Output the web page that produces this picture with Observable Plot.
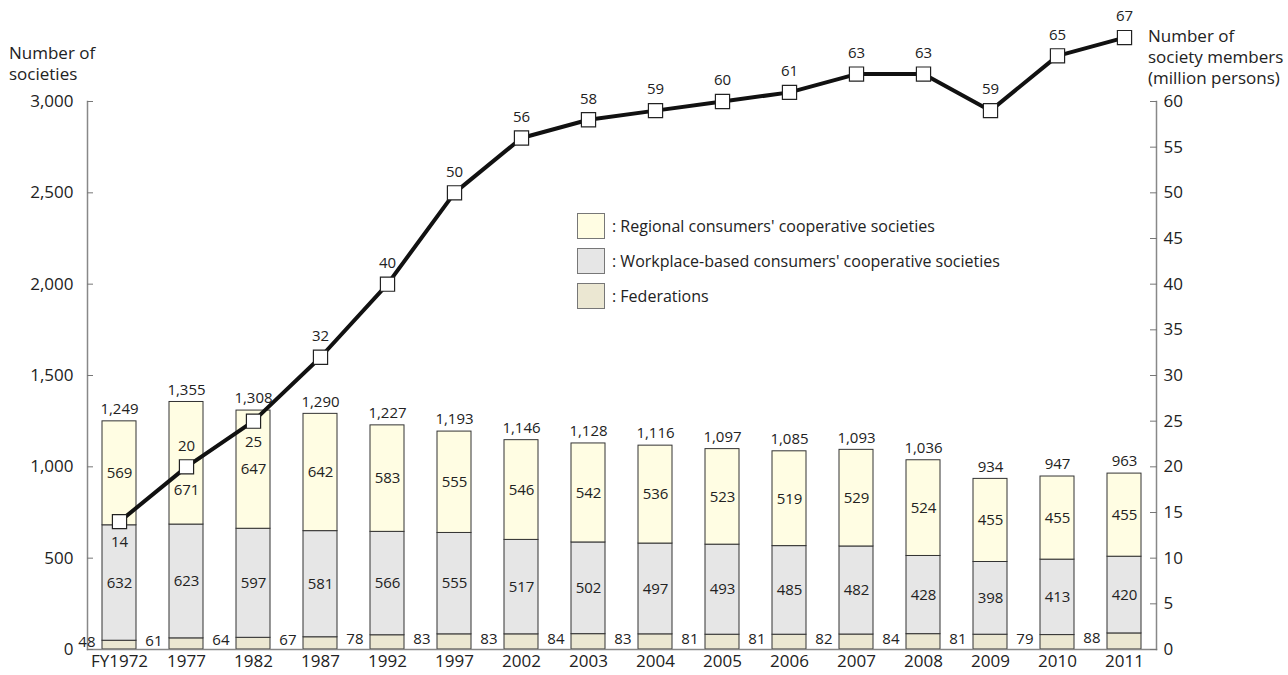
<!DOCTYPE html>
<html><head><meta charset="utf-8">
<script src="https://cdn.jsdelivr.net/npm/d3@7"></script>
<script src="https://cdn.jsdelivr.net/npm/@observablehq/plot@0.6"></script>
<style>
body{margin:0;background:#fff;font-family:"Open Sans",sans-serif;color:#222;}
#wrap{position:relative;width:1288px;height:675px;}
#wrap svg{position:absolute;left:0;top:0;}
.title{position:absolute;font-size:17px;line-height:21px;color:#222;white-space:nowrap;}
.legend{position:absolute;left:577px;top:213px;font-size:16px;color:#222;}
.legend .row{display:flex;align-items:center;height:26px;margin-bottom:9px;white-space:nowrap;}
.legend .sw{width:26px;height:24px;border:1px solid #777;margin-right:7px;box-sizing:content-box;}
</style></head><body>
<div id="wrap"></div>
<script>
const years = ["FY1972","1977","1982","1987","1992","1997","2002","2003","2004","2005","2006","2007","2008","2009","2010","2011"];
const federations = [48,61,64,67,78,83,83,84,83,81,81,82,84,81,79,88];
const workplace = [632,623,597,581,566,555,517,502,497,493,485,482,428,398,413,420];
const regional = [569,671,647,642,583,555,546,542,536,523,519,529,524,455,455,455];
const totals = [1249,1355,1308,1290,1227,1193,1146,1128,1116,1097,1085,1093,1036,934,947,963];
const members = [14,20,25,32,40,50,56,58,59,60,61,63,63,59,65,67];
const seriesNames = ["Federations","Workplace-based consumers' cooperative societies","Regional consumers' cooperative societies"];
const seriesColors = ["#ebe7d2","#e6e6e6","#fffde3"];
const leftTicks = [0,500,1000,1500,2000,2500,3000];
const rightTicks = [0,5,10,15,20,25,30,35,40,45,50,55,60];
const membersBelowLabel = ["FY1972","1982"];
const regionalShifted = ["1977"];

const k = 3000 / 60; // right axis (members) mapped onto left scale
const fmt = d3.format(",");

const rows = years.map((y,i)=>({year:y, fed:federations[i], work:workplace[i], reg:regional[i], total:totals[i], members:members[i]}));
const long = [];
rows.forEach(r=>{
  long.push({year:r.year, series:seriesNames[0], value:r.fed});
  long.push({year:r.year, series:seriesNames[1], value:r.work});
  long.push({year:r.year, series:seriesNames[2], value:r.reg});
});

const chart = Plot.plot({
  width:1288, height:675,
  marginLeft:87, marginRight:132, marginTop:101, marginBottom:26,
  x:{domain:years, paddingInner:0.5, paddingOuter:0.19, axis:null},
  y:{domain:[0,3000], axis:null},
  color:{domain:seriesNames, range:seriesColors},
  style:{fontFamily:"Open Sans", fontSize:"15px", color:"#222", background:"transparent"},
  marks:[
    Plot.barY(long, {x:"year", y:"value", fill:"series", stroke:"#333", strokeWidth:1}),
    Plot.frame({anchor:"left", stroke:"#888", strokeWidth:1.5}),
    Plot.frame({anchor:"right", stroke:"#888", strokeWidth:1.5}),
    Plot.frame({anchor:"bottom", stroke:"#888", strokeWidth:1.5}),
    Plot.axisY(leftTicks, {anchor:"left", tickSize:-6, tickPadding:20, tickFormat:fmt, fontSize:17, stroke:"#777", label:null}),
    Plot.axisY(rightTicks.map(v=>v*k), {anchor:"right", tickSize:-7, tickPadding:14, tickFormat:d=>d/k, fontSize:17, stroke:"#777", label:null}),
    Plot.axisX({tickSize:0, tickPadding:5, fontSize:17, label:null}),
    // value labels
    Plot.text(rows, {x:"year", y:d=>d.fed/2, text:d=>d.fed, textAnchor:"end", dx:-24, dy:-3}),
    Plot.text(rows, {x:"year", y:d=>d.fed + d.work/2, text:d=>d.work}),
    Plot.text(rows, {x:"year", y:d=>d.fed + d.work + d.reg/2, text:d=>d.reg, filter:d=>!regionalShifted.includes(d.year)}),
    Plot.text(rows, {x:"year", y:d=>d.fed + d.work + d.reg/2, text:d=>d.reg, dy:27, filter:d=>regionalShifted.includes(d.year)}),
    Plot.text(rows, {x:"year", y:"total", text:d=>fmt(d.total), dy:-12}),
    // members line
    Plot.line(rows, {x:"year", y:d=>d.members*k, stroke:"#111", strokeWidth:4}),
    Plot.dot(rows, {x:"year", y:d=>d.members*k, symbol:"square", r:8, fill:"white", stroke:"#222", strokeWidth:1.2}),
    Plot.text(rows, {x:"year", y:d=>d.members*k, text:"members", dy:-21, filter:d=>!membersBelowLabel.includes(d.year)}),
    Plot.text(rows, {x:"year", y:d=>d.members*k, text:"members", dy:21, filter:d=>membersBelowLabel.includes(d.year)})
  ]
});

const wrap = document.getElementById("wrap");
wrap.appendChild(chart);

const lt = document.createElement("div");
lt.className = "title"; lt.style.left = "9px"; lt.style.top = "42px";
lt.innerHTML = "Number of<br>societies";
wrap.appendChild(lt);

const rt = document.createElement("div");
rt.className = "title"; rt.style.left = "1148px"; rt.style.top = "25px";
rt.innerHTML = "Number of<br>society members<br>(million persons)";
wrap.appendChild(rt);

const lg = document.createElement("div");
lg.className = "legend";
[2,1,0].forEach(i=>{
  const row = document.createElement("div"); row.className = "row";
  const sw = document.createElement("div"); sw.className = "sw"; sw.style.background = seriesColors[i];
  const tx = document.createElement("span"); tx.textContent = ": " + seriesNames[i];
  row.appendChild(sw); row.appendChild(tx); lg.appendChild(row);
});
wrap.appendChild(lg);
</script>
</body></html>
